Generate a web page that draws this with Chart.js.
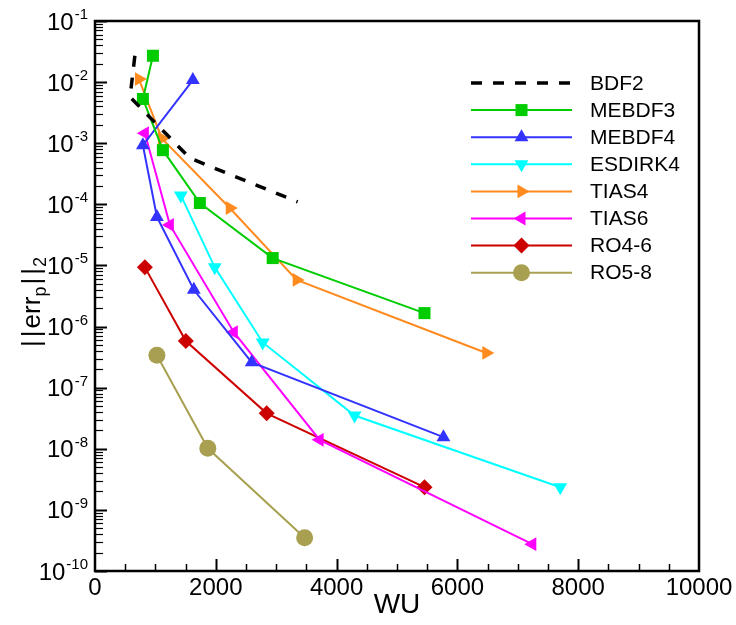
<!DOCTYPE html>
<html>
<head>
<meta charset="utf-8">
<title>Pressure error vs work units</title>
<script src="https://cdn.jsdelivr.net/npm/chart.js@4"></script>
<style>
  html, body { margin: 0; padding: 0; background: #fff; }
  #wrap { width: 736px; height: 625px; }
</style>
</head>
<body>
<div id="wrap"><canvas id="errChart" width="736" height="625"></canvas></div>
<script>
// Work units (WU) and pressure error ||err_p||_2 for each time integrator
const bdf2WU = [660, 580, 1570, 3355];
const bdf2Err = [2.7e-2, 5.7e-3, 5.7e-4, 1.1e-4];

const mebdf3WU = [959, 793, 1124, 1736, 2942, 5455];
const mebdf3Err = [2.7e-2, 5.3e-3, 7.7e-4, 1.05e-4, 1.32e-5, 1.66e-6];

const mebdf4WU = [1620, 793, 1025, 1636, 2595, 5769];
const mebdf4Err = [1.08e-2, 9.3e-4, 6.2e-5, 4.0e-6, 2.6e-7, 1.55e-8];

const esdirk4WU = [1421, 1983, 2777, 4298, 7702];
const esdirk4Err = [1.4e-4, 9.3e-6, 5.5e-7, 3.5e-8, 2.35e-9];

const tias4WU = [727, 1107, 2231, 3339, 6479];
const tias4Err = [1.12e-2, 1.2e-3, 8.7e-5, 5.8e-6, 3.7e-7];

const tias6WU = [826, 1240, 2298, 3719, 7240];
const tias6Err = [1.46e-3, 4.6e-5, 8.1e-7, 1.4e-8, 2.75e-10];

const ro46WU = [826, 1504, 2843, 5455];
const ro46Err = [9.3e-6, 5.8e-7, 3.8e-8, 2.35e-9];

const ro58WU = [1025, 1868, 3471];
const ro58Err = [3.4e-7, 1.02e-8, 3.5e-10];

// Axis ticks
const wuTicks = [0, 2000, 4000, 6000, 8000, 10000];
const errExponents = [-1, -2, -3, -4, -5, -6, -7, -8, -9, -10];

const FONT = '"Liberation Sans", Arial, Helvetica, sans-serif';

function toPoints(wu, err) {
    return wu.map((w, i) => ({ x: w, y: err[i] }));
}

function series(label, wu, err, color, style, rotation, radius) {
    return {
        label: label,
        data: toPoints(wu, err),
        showLine: true,
        borderColor: color,
        backgroundColor: color,
        borderWidth: 2,
        pointStyle: style,
        pointRotation: rotation,
        pointRadius: radius,
        pointHoverRadius: radius,
        pointBackgroundColor: color,
        pointBorderColor: color,
        pointBorderWidth: 0
    };
}

const datasets = [
    {
        label: 'BDF2',
        data: toPoints(bdf2WU, bdf2Err),
        showLine: true,
        borderColor: '#000',
        borderWidth: 3.5,
        borderDash: [11, 11],
        pointRadius: 0,
        pointStyle: false
    },
    series('MEBDF3', mebdf3WU, mebdf3Err, '#00cc00', 'rect', 0, 8.5),
    series('MEBDF4', mebdf4WU, mebdf4Err, '#3333ff', 'triangle', 0, 8),
    series('ESDIRK4', esdirk4WU, esdirk4Err, '#00ffff', 'triangle', 180, 8),
    series('TIAS4', tias4WU, tias4Err, '#ff8a1e', 'triangle', 90, 8),
    series('TIAS6', tias6WU, tias6Err, '#ff00ff', 'triangle', 270, 8),
    series('RO4-6', ro46WU, ro46Err, '#cc0000', 'rectRot', 0, 8),
    series('RO5-8', ro58WU, ro58Err, '#a8a050', 'circle', 0, 8.5)
];

// Marker shapes used in the legend box
function drawMarker(ctx, style, rotation, r, x, y, color) {
    ctx.save();
    ctx.fillStyle = color;
    ctx.translate(x, y);
    ctx.rotate(rotation * Math.PI / 180);
    ctx.beginPath();
    if (style === 'rect') {
        const s = r * Math.SQRT1_2;
        ctx.rect(-s, -s, 2 * s, 2 * s);
    } else if (style === 'rectRot') {
        ctx.moveTo(0, -r); ctx.lineTo(r, 0); ctx.lineTo(0, r); ctx.lineTo(-r, 0);
        ctx.closePath();
    } else if (style === 'triangle') {
        for (let k = 0; k < 3; k++) {
            const a = k * 2 * Math.PI / 3;
            const px = Math.sin(a) * r, py = -Math.cos(a) * r;
            if (k === 0) ctx.moveTo(px, py); else ctx.lineTo(px, py);
        }
        ctx.closePath();
    } else if (style === 'circle') {
        ctx.arc(0, 0, r, 0, Math.PI * 2);
    }
    ctx.fill();
    ctx.restore();
}

const framePlugin = {
    id: 'framePlugin',
    afterDraw(chart) {
        const ctx = chart.ctx;
        const area = chart.chartArea;
        const xs = chart.scales.x;
        const ys = chart.scales.y;
        ctx.save();

        // box around the plot
        ctx.strokeStyle = '#000';
        ctx.lineWidth = 2.5;
        ctx.strokeRect(area.left, area.top, area.right - area.left, area.bottom - area.top);

        // inward ticks on the bottom axis
        ctx.lineWidth = 2;
        for (let v = 500; v < 10000; v += 500) {
            const px = Math.round(xs.getPixelForValue(v)) + 0.5;
            const len = v % 2000 === 0 ? 12 : 7;
            ctx.lineWidth = v % 2000 === 0 ? 2 : 1.5;
            ctx.beginPath();
            ctx.moveTo(px, area.bottom);
            ctx.lineTo(px, area.bottom - len);
            ctx.stroke();
        }

        // inward ticks on the left axis (log decades + minors)
        errExponents.forEach(e => {
            const py = Math.round(ys.getPixelForValue(Math.pow(10, e))) + 0.5;
            ctx.lineWidth = 2;
            ctx.beginPath();
            ctx.moveTo(area.left, py);
            ctx.lineTo(area.left + 12, py);
            ctx.stroke();
            if (e < -1) {
                ctx.lineWidth = 1.2;
                for (let m = 2; m <= 9; m++) {
                    const pm = Math.round(ys.getPixelForValue(m * Math.pow(10, e))) + 0.5;
                    ctx.beginPath();
                    ctx.moveTo(area.left, pm);
                    ctx.lineTo(area.left + 8, pm);
                    ctx.stroke();
                }
            }
        });

        ctx.fillStyle = '#000';

        // x tick labels
        ctx.font = '24px ' + FONT;
        ctx.textAlign = 'center';
        ctx.textBaseline = 'middle';
        wuTicks.forEach(v => {
            ctx.fillText(String(v), xs.getPixelForValue(v), area.bottom + 17);
        });

        // y tick labels as 10 with a raised exponent
        ctx.textAlign = 'left';
        ctx.textBaseline = 'alphabetic';
        errExponents.forEach(e => {
            const py = ys.getPixelForValue(Math.pow(10, e));
            const sup = String(e);
            ctx.font = '24px ' + FONT;
            const bw = ctx.measureText('10').width;
            ctx.font = '15px ' + FONT;
            const sw = ctx.measureText(sup).width;
            const x0 = 88 - sw - bw - 1;
            ctx.font = '24px ' + FONT;
            ctx.fillText('10', x0, py + 8.5);
            ctx.font = '15px ' + FONT;
            ctx.fillText(sup, x0 + bw + 1, py - 2);
        });

        // x axis title
        ctx.font = '28px ' + FONT;
        ctx.textAlign = 'center';
        ctx.textBaseline = 'middle';
        ctx.fillText('WU', (area.left + area.right) / 2, 605);

        // y axis title ||err_p||_2, rotated
        ctx.save();
        ctx.translate(31, 302);
        ctx.rotate(-Math.PI / 2);
        ctx.textAlign = 'left';
        ctx.textBaseline = 'alphabetic';
        const parts = [
            { t: '|', f: 26, dy: 0, gap: 3 },
            { t: '|', f: 26, dy: 0, gap: 2 },
            { t: 'err', f: 26, dy: 0, gap: 0 },
            { t: 'p', f: 18, dy: 6, gap: 2 },
            { t: '|', f: 26, dy: 0, gap: 3 },
            { t: '|', f: 26, dy: 0, gap: 1 },
            { t: '2', f: 18, dy: 6, gap: 0 }
        ];
        let total = 0;
        parts.forEach(p => {
            ctx.font = p.f + 'px ' + FONT;
            p.w = ctx.measureText(p.t).width;
            total += p.w + p.gap;
        });
        let cx = -total / 2;
        parts.forEach(p => {
            ctx.font = p.f + 'px ' + FONT;
            ctx.fillText(p.t, cx, 9 + p.dy);
            cx += p.w + p.gap;
        });
        ctx.restore();

        // legend
        ctx.textAlign = 'left';
        ctx.textBaseline = 'middle';
        ctx.font = '21px ' + FONT;
        chart.data.datasets.forEach((ds, i) => {
            const y = 83 + i * 27.1;
            ctx.save();
            ctx.strokeStyle = ds.borderColor;
            ctx.lineWidth = ds.borderWidth;
            ctx.setLineDash(ds.borderDash || []);
            ctx.beginPath();
            ctx.moveTo(471, y);
            ctx.lineTo(572, y);
            ctx.stroke();
            ctx.restore();
            if (ds.pointRadius > 0) {
                drawMarker(ctx, ds.pointStyle, ds.pointRotation, ds.pointRadius, 521.5, y, ds.borderColor);
            }
            ctx.fillStyle = '#000';
            ctx.fillText(ds.label, 590, y + 1);
        });

        ctx.restore();
    }
};

const chart = new Chart(document.getElementById('errChart'), {
    type: 'scatter',
    data: { datasets: datasets },
    options: {
        responsive: false,
        animation: false,
        devicePixelRatio: 1,
        layout: { padding: { top: 21, right: 37, left: 0, bottom: 0 } },
        plugins: {
            legend: { display: false },
            tooltip: { enabled: false }
        },
        elements: { line: { tension: 0, borderCapStyle: 'butt' } },
        scales: {
            x: {
                type: 'linear',
                min: 0,
                max: 10000,
                grid: { display: false },
                border: { display: false },
                ticks: { display: false },
                afterFit: s => { s.height = 54; }
            },
            y: {
                type: 'logarithmic',
                min: 1e-10,
                max: 1e-1,
                grid: { display: false },
                border: { display: false },
                ticks: { display: false },
                afterFit: s => { s.width = 95; }
            }
        }
    },
    plugins: [framePlugin]
});
</script>
</body>
</html>
